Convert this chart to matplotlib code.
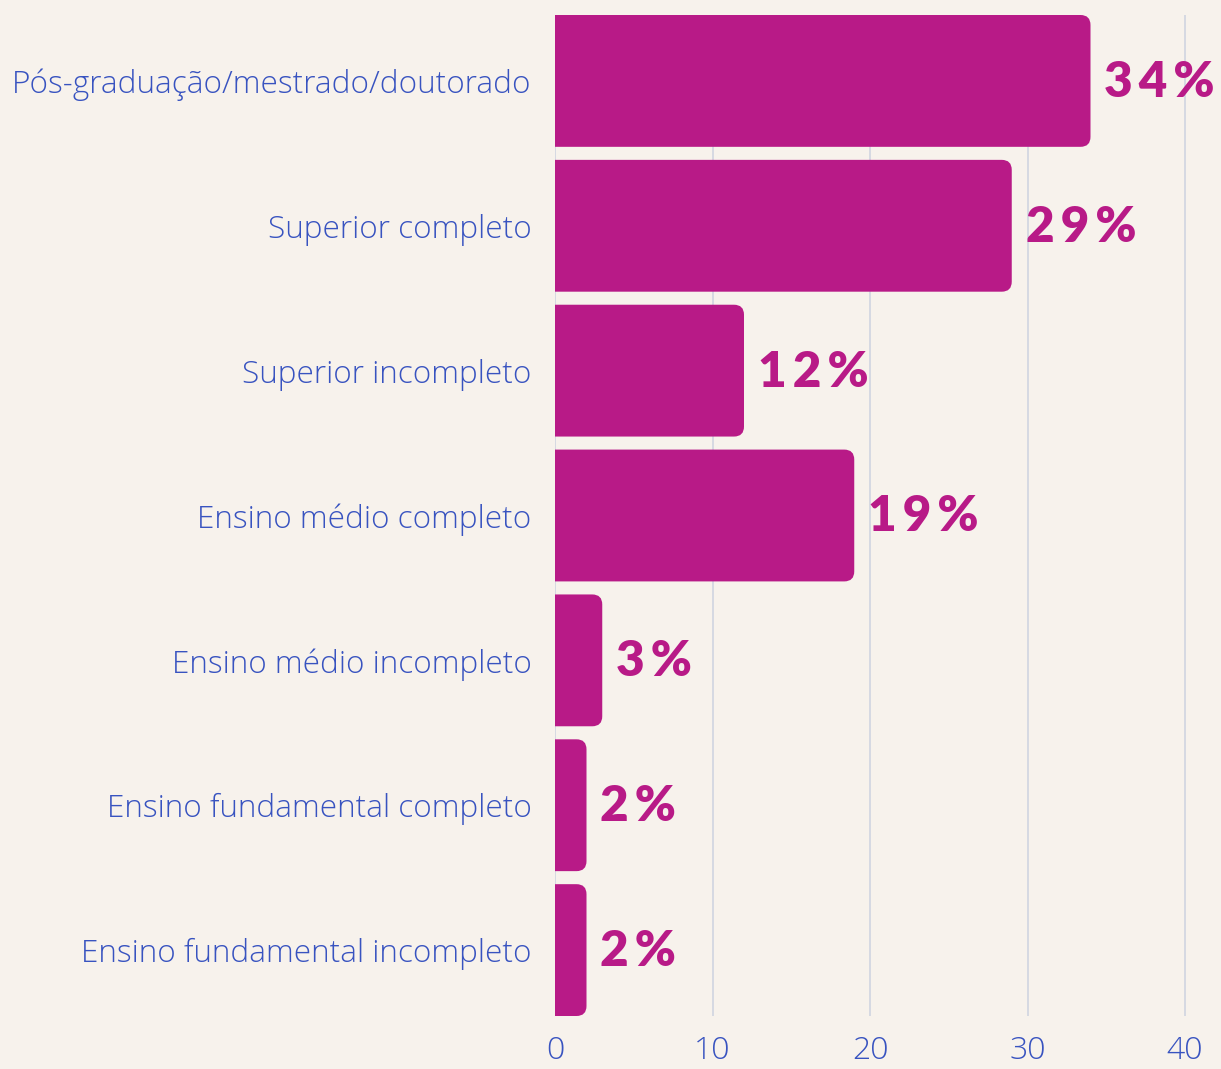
import matplotlib.pyplot as plt
from matplotlib.patches import FancyBboxPatch


CATEGORIES = [
    "Pós-graduação/mestrado/doutorado",
    "Superior completo",
    "Superior incompleto",
    "Ensino médio completo",
    "Ensino médio incompleto",
    "Ensino fundamental completo",
    "Ensino fundamental incompleto",
]
VALUES = [34, 29, 12, 19, 3, 2, 2]
XTICKS = [0, 10, 20, 30, 40]

BG = "#f7f2ec"
BAR = "#b81a87"
TEXT = "#3853c0"
GRID = "#d0d4e0"


def main():
    fig = plt.figure(figsize=(12.21, 10.69), dpi=100)
    fig.patch.set_facecolor(BG)
    W, H = 1221, 1069
    ax = fig.add_axes([555 / W, 53 / H, (W - 555) / W, (1016 - 15) / H])
    ax.set_facecolor(BG)

    height = 0.91
    ys = list(range(len(CATEGORIES)))
    ax.set_xlim(0, (W - 555) / 15.75)
    ax.set_ylim(len(CATEGORIES) - 1 + height / 2, -height / 2)

    # px per data unit, for the rounded corners
    px_x = 15.75
    px_y = (1016 - 15) / (len(CATEGORIES) - 1 + height)
    r = 10 / px_x
    for y, v in zip(ys, VALUES):
        patch = FancyBboxPatch(
            (-r, y - height / 2), v + r, height,
            boxstyle=f"round,pad=0,rounding_size={r}",
            mutation_aspect=px_x / px_y,
            facecolor=BAR, edgecolor="none", zorder=3,
        )
        ax.add_patch(patch)
        ax.annotate(
            "\u2009".join(str(v)) + "\u2009%", xy=(v, y), xytext=(10, -1),
            textcoords="offset points", va="center", ha="left",
            fontsize=35.5, fontweight="heavy", family="Lato", color=BAR,
        )

    ax.set_yticks(ys)
    ax.set_yticklabels(CATEGORIES, fontsize=22.7, color=TEXT,
                       family="Open Sans", fontweight="light")
    ax.set_xticks(XTICKS)
    ax.set_xticklabels([str(t) for t in XTICKS], fontsize=23, color=TEXT,
                       family="Open Sans", fontweight="light")
    ax.tick_params(axis="both", length=0)
    ax.tick_params(axis="y", pad=17)
    ax.tick_params(axis="x", pad=14)
    ax.grid(axis="x", color=GRID, linewidth=1.2, zorder=0)
    ax.set_axisbelow(True)
    for s in ax.spines.values():
        s.set_visible(False)

    fig.savefig("out.png", dpi=100, facecolor=BG)
    plt.close(fig)


if __name__ == "__main__":
    main()
